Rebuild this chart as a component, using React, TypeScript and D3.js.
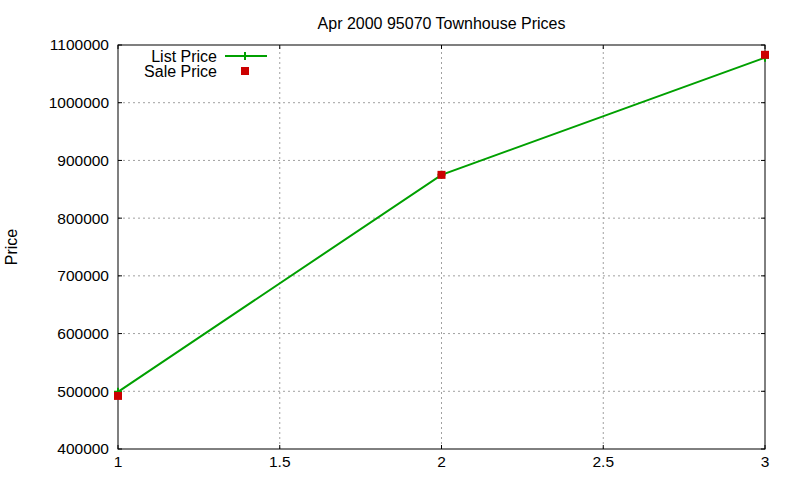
import React from "react";
import * as d3 from "d3";

const xValues = [1, 2, 3];
const listPrices = [499000, 875000, 1078000];
const salePrices = [492000, 875000, 1083000];
const xTicks = [1, 1.5, 2, 2.5, 3];
const yTicks = [400000, 500000, 600000, 700000, 800000, 900000, 1000000, 1100000];
const title = "Apr 2000 95070 Townhouse Prices";
const yLabel = "Price";
const seriesNames = ["List Price", "Sale Price"];

const W = 800, H = 480;
const M = { left: 118, right: 35, top: 45, bottom: 31 };
const FONT = "Liberation Sans, Arial, sans-serif";

export default function App() {
  const x = d3.scaleLinear().domain([1, 3]).range([M.left, W - M.right]);
  const y = d3.scaleLinear().domain([400000, 1100000]).range([H - M.bottom, M.top]);
  const line = d3.line<number>().x((_, i) => x(xValues[i])).y((d) => y(d));
  const green = "#00a000";
  const red = "#cc0000";
  const x0 = x.range()[0], x1 = x.range()[1];
  const y0 = y.range()[0], y1 = y.range()[1];
  return (
    <svg width={W} height={H} style={{ position: "absolute", left: 0, top: 0, background: "#fff" }} fontFamily={FONT}>
      <rect width={W} height={H} fill="#fff" />
      {/* grid */}
      {yTicks.slice(1, -1).map((t) => (
        <line key={"gy" + t} x1={x0} x2={x1} y1={y(t)} y2={y(t)} stroke="#a0a0a0" strokeDasharray="2,3" />
      ))}
      {xTicks.slice(1, -1).map((t) => (
        <line key={"gx" + t} x1={x(t)} x2={x(t)} y1={y0} y2={y1} stroke="#a0a0a0" strokeDasharray="2,3" />
      ))}
      {/* ticks */}
      {yTicks.map((t) => (
        <g key={"ty" + t}>
          <line x1={x0} x2={x0 + 4} y1={y(t)} y2={y(t)} stroke="#000" />
          <line x1={x1} x2={x1 - 4} y1={y(t)} y2={y(t)} stroke="#000" />
          <text x={x0 - 9} y={y(t)} dy="0.35em" textAnchor="end" fontSize={15.5}>{t}</text>
        </g>
      ))}
      {xTicks.map((t) => (
        <g key={"tx" + t}>
          <line x1={x(t)} x2={x(t)} y1={y0} y2={y0 - 4} stroke="#000" />
          <line x1={x(t)} x2={x(t)} y1={y1} y2={y1 + 4} stroke="#000" />
          <text x={x(t)} y={y0 + 18} textAnchor="middle" fontSize={15.5}>{t}</text>
        </g>
      ))}
      <rect x={x0} y={y1} width={x1 - x0} height={y0 - y1} fill="none" stroke="#000" />
      {/* title and label */}
      <text x={(x0 + x1) / 2} y={29} textAnchor="middle" fontSize={16}>{title}</text>
      <text transform={`translate(17,${(y0 + y1) / 2}) rotate(-90)`} textAnchor="middle" fontSize={16}>{yLabel}</text>
      {/* series */}
      <path d={line(listPrices) || ""} fill="none" stroke={green} strokeWidth={2} />
      {listPrices.map((v, i) => (
        <path key={"lp" + i} d={`M${x(xValues[i]) - 4},${y(v)}h8M${x(xValues[i])},${y(v) - 4}v8`} stroke={green} strokeWidth={2} />
      ))}
      {salePrices.map((v, i) => (
        <rect key={"sp" + i} x={x(xValues[i]) - 4} y={y(v) - 4} width={8} height={8} fill={red} />
      ))}
      {/* legend */}
      <text x={217} y={56} dy="0.35em" textAnchor="end" fontSize={16}>{seriesNames[0]}</text>
      <line x1={225} x2={267} y1={56} y2={56} stroke={green} strokeWidth={2} />
      <path d={`M241,56h8M245,52v8`} stroke={green} strokeWidth={2} />
      <text x={217} y={71} dy="0.35em" textAnchor="end" fontSize={16}>{seriesNames[1]}</text>
      <rect x={241} y={67} width={8} height={8} fill={red} />
    </svg>
  );
}
